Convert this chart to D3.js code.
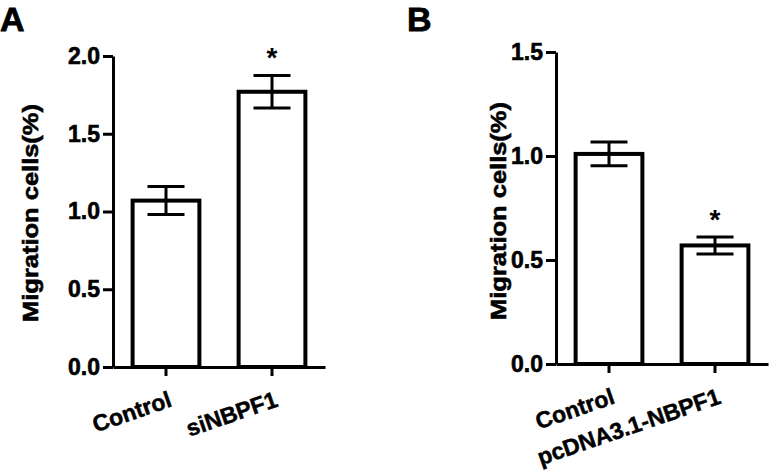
<!DOCTYPE html>
<html>
<head>
<meta charset="utf-8">
<script src="https://cdn.jsdelivr.net/npm/d3@7"></script>
<style>
  html, body { margin: 0; padding: 0; background: #fff; }
  svg { display: block; }
  text { font-family: "Liberation Sans", Arial, sans-serif; font-weight: bold; fill: #000; }
</style>
</head>
<body>
<script>
// ---- Data ----
const categoriesA = ["Control", "siNBPF1"];
const meansA = [1.07, 1.77];
const errorsA = [0.09, 0.105];
const starsA = ["", "*"];
const ticksA = [0.0, 0.5, 1.0, 1.5, 2.0];

const categoriesB = ["Control", "pcDNA3.1-NBPF1"];
const meansB = [1.01, 0.57];
const errorsB = [0.057, 0.041];
const starsB = ["", "*"];
const ticksB = [0.0, 0.5, 1.0, 1.5];

const yTitle = "Migration cells(%)";

const W = 769, H = 474;
const svg = d3.select("body").append("svg").attr("width", W).attr("height", H);

function drawPanel(opt) {
  const g = svg.append("g");
  const x = d3.scaleBand().domain(opt.categories).range([opt.x0, opt.x1])
    .paddingInner(0.37).paddingOuter(0.185);
  const y = d3.scaleLinear().domain([0, opt.ymax]).range([opt.y0, opt.y1]);

  // panel letter
  g.append("text").attr("x", opt.letterX).attr("y", 31)
    .style("font-size", "34px").attr("stroke", "#000").attr("stroke-width", 0.8)
    .text(opt.letter);

  // y axis
  const ya = g.append("g").attr("transform", `translate(${opt.x0},0)`)
    .call(d3.axisLeft(y).tickValues(opt.ticks).tickFormat(d3.format(".1f"))
      .tickSize(10).tickSizeOuter(0).tickPadding(3));
  ya.selectAll("path, line").attr("stroke", "#000").attr("stroke-width", 3);
  ya.selectAll("text").style("font-size", "23px")
    .style("font-family", "'Liberation Sans', Arial, sans-serif").style("font-weight", "bold")
    .attr("fill", "#000").attr("stroke", "#000").attr("stroke-width", 0.6);

  // bars
  const data = opt.categories.map((c, i) => ({ c, m: opt.means[i], e: opt.errors[i], s: opt.stars[i] }));
  g.selectAll("rect.bar").data(data).enter().append("rect")
    .attr("class", "bar")
    .attr("x", d => x(d.c))
    .attr("width", x.bandwidth())
    .attr("y", d => y(d.m))
    .attr("height", d => y(0) - y(d.m))
    .attr("fill", "#fff").attr("stroke", "#000").attr("stroke-width", 4);

  // error bars
  const cap = 18.5;
  const eb = g.selectAll("g.err").data(data).enter().append("g").attr("class", "err");
  eb.append("line")
    .attr("x1", d => x(d.c) + x.bandwidth() / 2).attr("x2", d => x(d.c) + x.bandwidth() / 2)
    .attr("y1", d => y(d.m + d.e)).attr("y2", d => y(d.m - d.e));
  eb.append("line")
    .attr("x1", d => x(d.c) + x.bandwidth() / 2 - cap).attr("x2", d => x(d.c) + x.bandwidth() / 2 + cap)
    .attr("y1", d => y(d.m + d.e)).attr("y2", d => y(d.m + d.e));
  eb.append("line")
    .attr("x1", d => x(d.c) + x.bandwidth() / 2 - cap).attr("x2", d => x(d.c) + x.bandwidth() / 2 + cap)
    .attr("y1", d => y(d.m - d.e)).attr("y2", d => y(d.m - d.e));
  eb.selectAll("line").attr("stroke", "#000").attr("stroke-width", 3);

  // significance stars
  g.selectAll("text.star").data(data).enter().append("text")
    .attr("class", "star")
    .attr("x", d => x(d.c) + x.bandwidth() / 2)
    .attr("y", d => y(d.m + d.e) - 8)
    .attr("text-anchor", "middle")
    .style("font-size", "28px")
    .text(d => d.s);

  // x axis
  const xa = g.append("g").attr("transform", `translate(0,${opt.y0})`)
    .call(d3.axisBottom(x).tickSize(9).tickSizeOuter(0).tickFormat(""));
  xa.selectAll("path, line").attr("stroke", "#000").attr("stroke-width", 3);

  // rotated category labels
  g.selectAll("text.cat").data(data).enter().append("text")
    .attr("class", "cat")
    .attr("text-anchor", "end")
    .attr("transform", d => `translate(${x(d.c) + x.bandwidth() / 2 + 7},${opt.y0 + 39}) rotate(-19)`)
    .style("font-size", "23px").attr("stroke", "#000").attr("stroke-width", 0.5)
    .text(d => d.c);

  // y title
  g.append("text")
    .attr("text-anchor", "middle")
    .attr("transform", `translate(${opt.titleX},${opt.titleY}) rotate(-90)`)
    .attr("textLength", 218).attr("lengthAdjust", "spacingAndGlyphs")
    .style("font-size", "22px").attr("stroke", "#000").attr("stroke-width", 0.6)
    .text(yTitle);
}

drawPanel({ letter: "A", letterX: 0, categories: categoriesA, means: meansA, errors: errorsA, stars: starsA,
  ticks: ticksA, ymax: 2.0, x0: 113, x1: 325, y0: 367, y1: 56, titleX: 38, titleY: 213 });
drawPanel({ letter: "B", letterX: 407, categories: categoriesB, means: meansB, errors: errorsB, stars: starsB,
  ticks: ticksB, ymax: 1.5, x0: 556, x1: 768, y0: 364, y1: 52, titleX: 506, titleY: 211 });
</script>
</body>
</html>
